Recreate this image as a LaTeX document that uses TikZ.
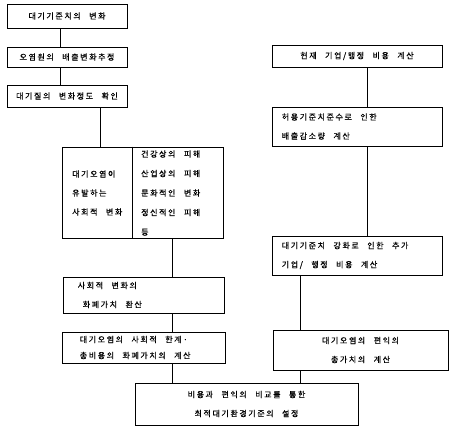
\documentclass[tikz,border=0pt]{standalone}
\usepackage{fontspec}
\setmainfont{Noto Sans CJK KR}[LetterSpace=20, WordSpace=2.5, FakeBold=0.6]
\usetikzlibrary{positioning, calc}

\tikzset{
  stepbox/.style={draw, line width=0.8pt, inner sep=2pt, font=\fontsize{8}{19}\selectfont},
  steptext/.style={inner sep=0pt, align=left, anchor=west, font=\fontsize{8}{19}\selectfont},
  link/.style={line width=0.5pt}
}

\begin{document}
\begin{tikzpicture}[x=1pt, y=-1pt]
  \useasboundingbox (0,0) rectangle (454,437);

  % Left column
  \node[stepbox, minimum width=120pt, minimum height=24pt] (b1) at (67,16) {대기기준치의 변화};
  \node[stepbox, minimum width=120pt, minimum height=20pt] (b2) at (67,57) {오염원의 배출변화추정};
  \node[stepbox, minimum width=120pt, minimum height=22pt] (b3) at (67,96) {대기질의 변화정도 확인};

  % Social change box, split in two
  \node[stepbox, minimum width=161pt, minimum height=91pt] (soc) at (142.5,192.5) {};
  \draw[line width=0.6pt] ($(soc.north west)+(71,0)$) -- ($(soc.south west)+(71,0)$);
  \node[steptext] (socl) at (72,193) {대기오염이\\유발하는\\사회적 변화};
  \node[steptext, font=\fontsize{8}{19.5}\selectfont] (socr) at (141,193) {건강상의 피해\\산업상의 피해\\문화적인 변화\\정신적인 피해\\등};

  \node[stepbox, minimum width=161pt, minimum height=36pt] (b5) at (143.5,295) {};
  \node[steptext] (b5t) at ([xshift=15pt]b5.west) {사회적 변화의\\\hspace*{5pt}화폐가치 환산};
  \node[stepbox, minimum width=163pt, minimum height=31pt] (b6) at (143.5,347.5) {};
  \node[steptext, font=\fontsize{8}{16}\selectfont] (b6t) at ([xshift=18pt]b6.west) {대기오염의 사회적 한계·\\총비용의 화폐가치의 계산};

  % Right column
  \node[stepbox, minimum width=170pt, minimum height=22pt] (b7) at (357,56) {현재 기업/행정 비용 계산};
  \node[stepbox, minimum width=170pt, minimum height=39pt] (b8) at (357,126.5) {};
  \node[steptext] (b8t) at ([xshift=10pt]b8.west) {허용기준치준수로 인한\\배출감소량 계산};
  \node[stepbox, minimum width=170pt, minimum height=39pt] (b9) at (357,255.5) {};
  \node[steptext] (b9t) at ([xshift=10pt]b9.west) {대기기준치 강화로 인한 추가\\기업/ 행정 비용 계산};
  \node[stepbox, minimum width=175pt, minimum height=40pt, align=center] (b10) at (360.5,350) {대기오염의 편익의\\총가치의 계산};

  % Final box
  \node[stepbox, minimum width=223pt, minimum height=42pt, align=center] (b11) at (246.5,404) {비용과 편익의 비교를 통한\\최적대기환경기준의 설정};

  % Connectors
  \draw[link] ([xshift=-7pt]b1.south) -- ([xshift=-7pt]b2.north);
  \draw[link] ([xshift=-7pt]b2.south) -- ([xshift=-7pt]b3.north);
  \draw[link] ([xshift=33pt]b3.south) -- ([xshift=33pt]b3.south |- soc.north);
  \draw[link] ([xshift=29.5pt]soc.south) -- ([xshift=29.5pt]soc.south |- b5.north);
  \draw[link] ([xshift=28.5pt]b5.south) -- ([xshift=28.5pt]b5.south |- b6.north);
  \draw[link] ([xshift=28.5pt]b6.south) -- ([xshift=28.5pt]b6.south |- b11.north);
  \draw[link] ([xshift=10pt]b7.south) -- ([xshift=10pt]b8.north);
  \draw[link] ([xshift=10pt]b8.south) -- ([xshift=10pt]b9.north);
  \draw[link] ([xshift=-57pt]b9.south) -- ([xshift=-57pt]b9.south |- b10.north);
  \draw[link] ([xshift=-60.5pt]b10.south) -- ([xshift=-60.5pt]b10.south |- b11.north);
\end{tikzpicture}
\end{document}
